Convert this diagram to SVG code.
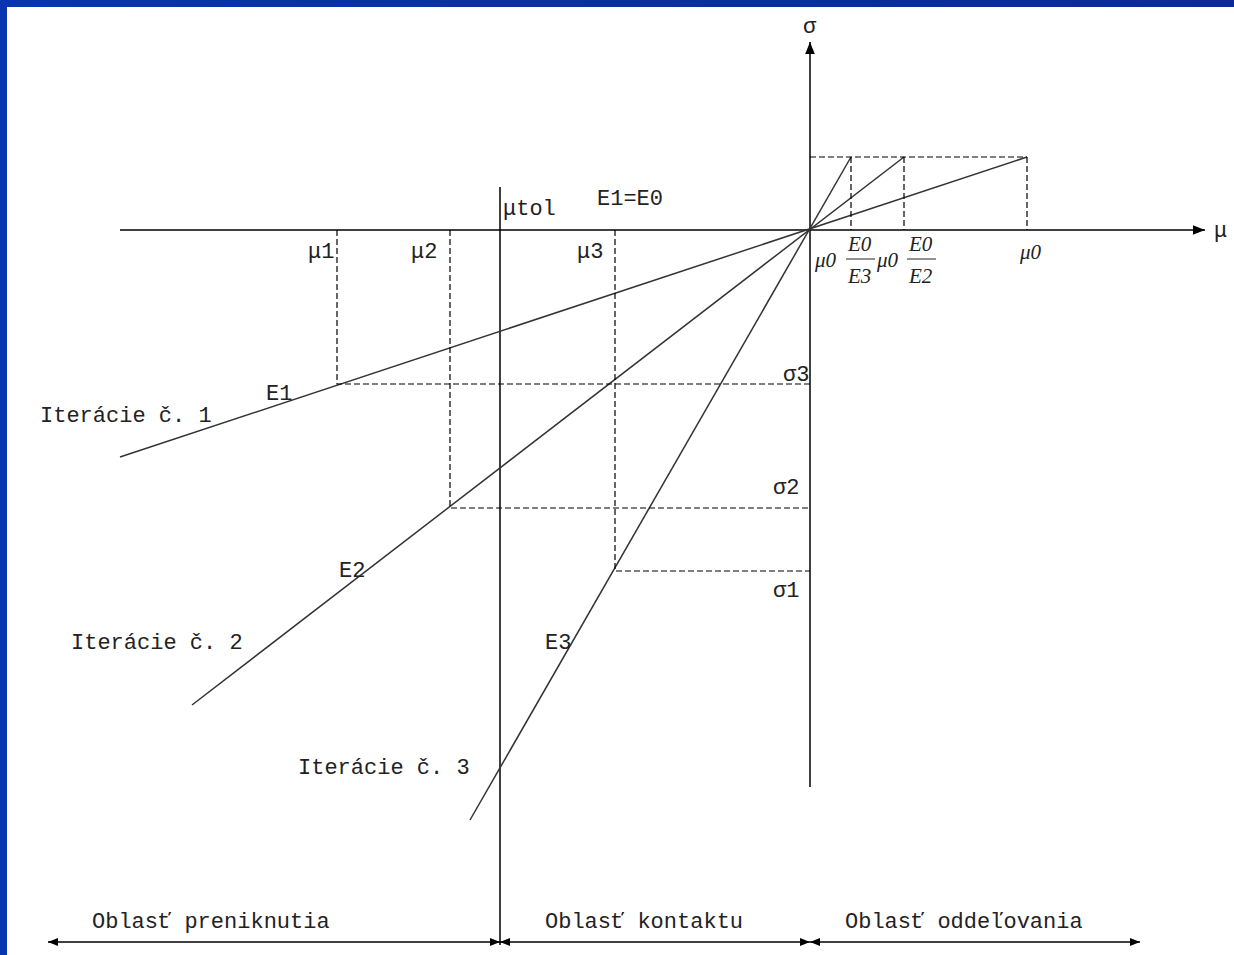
<svg xmlns="http://www.w3.org/2000/svg" width="1234" height="955" viewBox="0 0 1234 955">
<defs>
<linearGradient id="bar" x1="0" y1="0" x2="1" y2="0">
<stop offset="0" stop-color="#0a35b0"/><stop offset="0.5" stop-color="#0a2fa0"/><stop offset="1" stop-color="#0a2a9c"/>
</linearGradient>
<marker id="ah" viewBox="0 0 10 10" refX="10" refY="5" markerWidth="12" markerHeight="12" markerUnits="userSpaceOnUse" orient="auto-start-reverse">
<path d="M0,1 L10,5 L0,9 z" fill="#000"/>
</marker>
<marker id="ahs" viewBox="0 0 10 10" refX="10" refY="5" markerWidth="10" markerHeight="10" markerUnits="userSpaceOnUse" orient="auto-start-reverse">
<path d="M0,1 L10,5 L0,9 z" fill="#000"/>
</marker>
</defs>
<style>
.t{font-family:"Liberation Mono","Courier New",monospace;font-size:22px;fill:#222}
.m{font-family:"Liberation Serif","Times New Roman",serif;font-style:italic;font-size:21px;fill:#222}
.ax{stroke:#000;stroke-width:1.5;fill:none}
.ln{stroke:#333;stroke-width:1.5;fill:none}
.d{stroke:#000;stroke-width:1.2;stroke-dasharray:6,3;fill:none}
</style>
<rect width="1234" height="955" fill="#fff"/>
<rect x="0" y="0" width="1234" height="7" fill="url(#bar)"/>
<rect x="0" y="0" width="7" height="955" fill="#0a35b0"/>

<g id="connectors">
<line class="ax" x1="810" y1="787" x2="810" y2="42" marker-end="url(#ah)"/>
<line class="ax" x1="120" y1="230" x2="1205" y2="230" marker-end="url(#ah)"/>
<line class="ax" x1="500" y1="187" x2="500" y2="945"/>
<line class="ln" x1="120" y1="457" x2="1027" y2="157"/>
<line class="ln" x1="192" y1="705" x2="904" y2="157"/>
<line class="ln" x1="470" y1="820" x2="851" y2="157"/>
<path class="d" d="M810,157 H1027 M851,157 V230 M904,157 V230 M1027,157 V230"/>
<path class="d" d="M337,230 V384 H810 M450,230 V508 H810 M615,230 V571 H810"/>
<line class="ax" x1="48" y1="942" x2="500" y2="942" marker-start="url(#ahs)" marker-end="url(#ahs)"/>
<line class="ax" x1="500" y1="942" x2="810" y2="942" marker-start="url(#ahs)" marker-end="url(#ahs)"/>
<line class="ax" x1="810" y1="942" x2="1140" y2="942" marker-start="url(#ahs)" marker-end="url(#ahs)"/>
</g>

<g id="axis-labels">
<text class="t" x="803" y="33">σ</text>
<text class="t" x="1214" y="237">μ</text>
<text class="t" x="503" y="215">μtol</text>
<text class="t" x="597" y="205">E1=E0</text>
</g>
<g id="mu-labels">
<text class="t" x="308" y="258">μ1</text>
<text class="t" x="411" y="258">μ2</text>
<text class="t" x="577" y="258">μ3</text>
</g>
<g id="sigma-labels">
<text class="t" x="783" y="381">σ3</text>
<text class="t" x="773" y="494">σ2</text>
<text class="t" x="773" y="597">σ1</text>
</g>
<g id="line-labels">
<text class="t" x="266" y="400">E1</text>
<text class="t" x="339" y="577">E2</text>
<text class="t" x="545" y="649">E3</text>
<text class="t" x="40" y="422">Iterácie č. 1</text>
<text class="t" x="71" y="649">Iterácie č. 2</text>
<text class="t" x="298" y="774">Iterácie č. 3</text>
</g>
<g id="mu0-labels">
<text class="m" x="815" y="267">μ0</text>
<text class="m" x="848" y="251">E0</text>
<line x1="846" y1="259" x2="875" y2="259" stroke="#222" stroke-width="1"/>
<text class="m" x="848" y="283">E3</text>
<text class="m" x="877" y="267">μ0</text>
<text class="m" x="909" y="251">E0</text>
<line x1="907" y1="259" x2="936" y2="259" stroke="#222" stroke-width="1"/>
<text class="m" x="909" y="283">E2</text>
<text class="m" x="1020" y="259">μ0</text>
</g>
<g id="regions">
<text class="t" x="92" y="928">Oblasť preniknutia</text>
<text class="t" x="545" y="928">Oblasť kontaktu</text>
<text class="t" x="845" y="928">Oblasť oddeľovania</text>
</g>
</svg>
